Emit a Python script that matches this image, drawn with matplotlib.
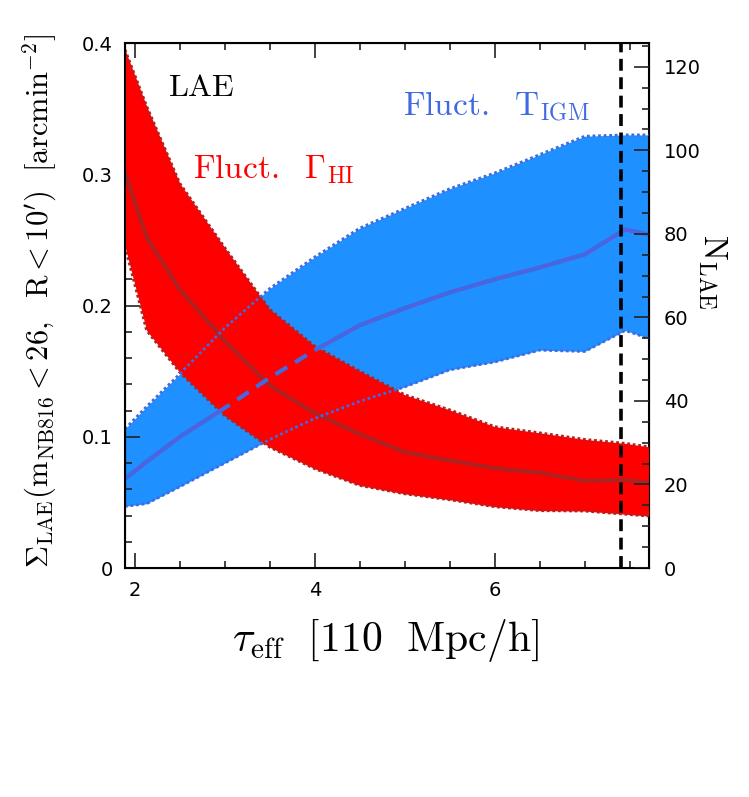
import numpy as np
import matplotlib
matplotlib.use('Agg')
import matplotlib.pyplot as plt
from matplotlib.ticker import MultipleLocator

plt.rcParams['mathtext.fontset'] = 'cm'
plt.rcParams['font.family'] = 'DejaVu Sans'

# tau_eff grid and bands
tau = [1.89, 2.13, 2.5, 3.0, 3.5, 4.0, 4.5, 5.0, 5.5, 6.0, 6.5, 7.0, 7.45, 7.71]
# fluctuating Gamma_HI (red)
gam_hi = [0.395, 0.352, 0.293, 0.244, 0.197, 0.169, 0.150, 0.132, 0.1205, 0.1077, 0.103, 0.098, 0.095, 0.0924]
gam_med = [0.301, 0.252, 0.212, 0.173, 0.139, 0.118, 0.102, 0.0883, 0.082, 0.076, 0.0725, 0.0665, 0.067, 0.065]
gam_lo = [0.245, 0.181, 0.149, 0.116, 0.092, 0.0756, 0.0629, 0.0565, 0.052, 0.0467, 0.0437, 0.0434, 0.041, 0.0396]
# fluctuating T_IGM (blue)
tig_hi = [0.106, 0.123, 0.148, 0.183, 0.213, 0.237, 0.259, 0.274, 0.289, 0.301, 0.315, 0.329, 0.330, 0.330]
tig_med = [0.068, 0.081, 0.100, 0.122, 0.145, 0.166, 0.185, 0.198, 0.210, 0.220, 0.229, 0.239, 0.258, 0.254]
tig_lo = [0.047, 0.049, 0.062, 0.080, 0.098, 0.114, 0.127, 0.138, 0.151, 0.157, 0.166, 0.165, 0.181, 0.175]

tau_obs = 7.4          # dashed vertical line
area_fac = 314.2       # N_LAE per unit surface density

RED, DRED = '#FF0000', '#B22222'
BLUE, RBLUE = '#1E90FF', '#4169E1'

fig = plt.figure(figsize=(7.49, 7.97), dpi=100)
ax = fig.add_axes([0.1669, 0.2873, 0.699, 0.6587])

dot = (0, (1, 1))
ax.fill_between(tau, tig_lo, tig_hi, color=BLUE, lw=0, zorder=1)
ax.plot(tau, tig_med, color='#5560DD', lw=3, zorder=2)
ax.fill_between(tau, gam_lo, gam_hi, color=RED, lw=0, zorder=3)
ax.plot(tau, gam_med, color='#A02828', lw=3, alpha=0.85, zorder=4)
ax.plot(tau, gam_hi, color=DRED, lw=2, ls=dot, zorder=4)
ax.plot(tau, gam_lo, color=DRED, lw=2, ls=dot, zorder=4)
ax.plot(tau, tig_med, color=RBLUE, lw=3, ls=(0, (3.3, 2.2)), zorder=5)
ax.plot(tau, tig_hi, color=RBLUE, lw=2, ls=dot, zorder=5)
ax.plot(tau, tig_lo, color=RBLUE, lw=2, ls=dot, zorder=5)
ax.axvline(tau_obs, color='black', lw=2.6, ls=(0, (3.3, 1.8)), zorder=6)

ax.set_xlim(1.89, 7.71)
ax.set_ylim(0, 0.4)
ax.xaxis.set_major_locator(MultipleLocator(2))
ax.xaxis.set_minor_locator(MultipleLocator(0.5))
ax.yaxis.set_major_locator(MultipleLocator(0.1))
ax.yaxis.set_minor_locator(MultipleLocator(0.02))
ax.yaxis.set_major_formatter(plt.FuncFormatter(lambda v, p: '0' if v == 0 else f'{v:.1f}'))
ax.tick_params(which='both', direction='in', top=True, right=False, labelsize=14, width=1.2, color='#222222')
ax.tick_params(which='major', length=11, pad=9)
ax.tick_params(which='minor', length=5)
for s in ax.spines.values():
    s.set_linewidth(1.5)

ax2 = ax.twinx()
ax2.set_ylim(0, 0.4 * area_fac)
ax2.yaxis.set_major_locator(MultipleLocator(20))
ax2.yaxis.set_minor_locator(MultipleLocator(5))
ax2.tick_params(which='both', direction='in', labelsize=14, width=1.2, color='#222222')
ax2.tick_params(which='major', length=11, pad=11)
ax2.tick_params(which='minor', length=5)

ax.text(2.37, 0.36, r'$\mathrm{LAE}$', fontsize=23, color='black', zorder=10)
ax.text(2.65, 0.297, r'$\mathrm{Fluct.\ \ \Gamma_{HI}}$', fontsize=24, color=RED, zorder=10)
ax.text(4.98, 0.345, r'$\mathrm{Fluct.\ \ T_{IGM}}$', fontsize=24, color=RBLUE, zorder=10)

fig.text(0.514, 1 - 640 / 797, r'$\tau_{\mathrm{eff}}\ \ [\mathrm{110\ \ Mpc/h}]$',
         fontsize=30, ha='center', va='center')
fig.text(40 / 749, 1 - 301 / 797,
         r'$\Sigma_{\mathrm{LAE}}(\mathrm{m_{NB816}} < 26,\ \ \mathrm{R} < 10^{\prime})\ \ [\mathrm{arcmin}^{-2}]$',
         fontsize=22, rotation=90, ha='center', va='center')
fig.text(712 / 749, 1 - 272 / 797, r'$\mathrm{N_{LAE}}$', fontsize=24, rotation=-90,
         ha='center', va='center')

fig.savefig('out.png', dpi=100)
